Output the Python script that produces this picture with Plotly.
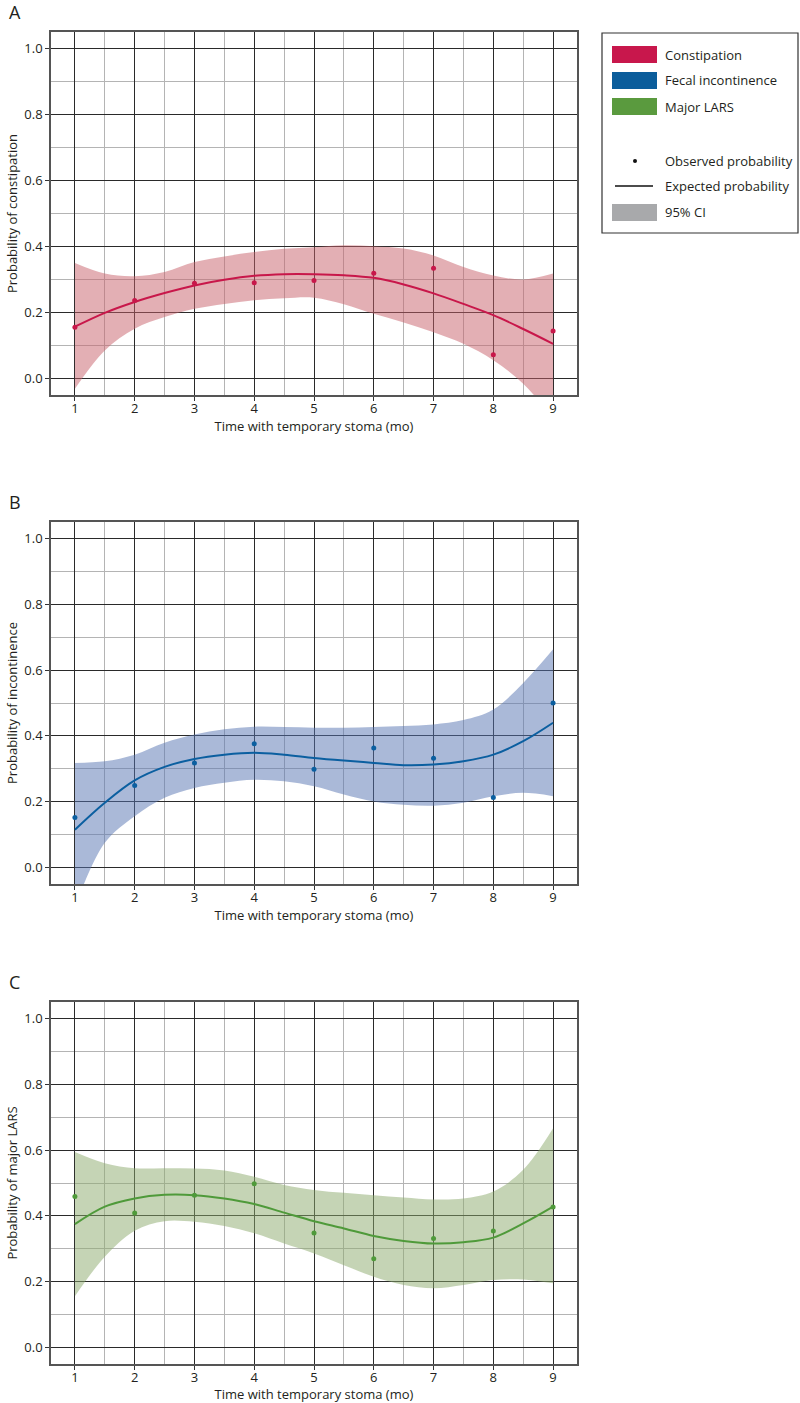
import plotly.graph_objects as go

# ---------------- data ----------------
months = [1, 2, 3, 4, 5, 6, 7, 8, 9]
curve_x = [1, 1.5, 2, 2.5, 3, 3.5, 4, 4.5, 5, 5.5, 6, 6.5, 7, 7.5, 8, 8.5, 9]

# A: constipation
const_obs = [0.155, 0.236, 0.289, 0.290, 0.297, 0.319, 0.334, 0.072, 0.144]
const_fit = [0.157, 0.199, 0.232, 0.259, 0.282, 0.299, 0.311, 0.316, 0.316, 0.313, 0.305, 0.285, 0.258, 0.226, 0.192, 0.150, 0.105]
const_hi = [0.350, 0.318, 0.310, 0.323, 0.353, 0.370, 0.383, 0.393, 0.398, 0.404, 0.401, 0.394, 0.373, 0.338, 0.312, 0.300, 0.318]
const_lo = [-0.031, 0.085, 0.151, 0.186, 0.211, 0.226, 0.237, 0.243, 0.245, 0.225, 0.196, 0.170, 0.140, 0.105, 0.055, -0.016, -0.120]

# B: fecal incontinence
inc_obs = [0.152, 0.249, 0.318, 0.376, 0.299, 0.363, 0.332, 0.213, 0.500]
inc_fit = [0.115, 0.197, 0.265, 0.306, 0.330, 0.343, 0.349, 0.343, 0.333, 0.325, 0.318, 0.311, 0.313, 0.323, 0.343, 0.384, 0.440]
inc_hi = [0.318, 0.323, 0.343, 0.379, 0.404, 0.420, 0.428, 0.427, 0.425, 0.425, 0.427, 0.430, 0.435, 0.448, 0.480, 0.561, 0.663]
inc_lo = [-0.120, 0.075, 0.156, 0.212, 0.242, 0.258, 0.267, 0.262, 0.247, 0.222, 0.201, 0.191, 0.188, 0.197, 0.217, 0.227, 0.217]

# C: major LARS
lars_x = [1, 2, 3, 4, 5, 6, 7, 8, 9]
lars_obs = [0.459, 0.409, 0.463, 0.498, 0.348, 0.270, 0.331, 0.354, 0.427]
lars_fit = [0.375, 0.428, 0.453, 0.464, 0.463, 0.453, 0.436, 0.410, 0.384, 0.362, 0.339, 0.324, 0.316, 0.320, 0.334, 0.377, 0.428]
lars_hi = [0.594, 0.560, 0.545, 0.545, 0.544, 0.538, 0.519, 0.494, 0.479, 0.470, 0.463, 0.456, 0.450, 0.453, 0.474, 0.540, 0.666]
lars_lo = [0.156, 0.276, 0.355, 0.384, 0.382, 0.369, 0.347, 0.316, 0.286, 0.250, 0.215, 0.190, 0.180, 0.190, 0.205, 0.207, 0.195]

y_ticks = [0.0, 0.2, 0.4, 0.6, 0.8, 1.0]
y_titles = ["Probability of constipation", "Probability of incontinence", "Probability of major LARS"]
x_title = "Time with temporary stoma (mo)"
panel_labels = ["A", "B", "C"]
legend_series = ["Constipation", "Fecal incontinence", "Major LARS"]
legend_misc = ["Observed probability", "Expected probability", "95% CI"]

# ---------------- styling ----------------
W, H = 800, 1403
FONT = "Open Sans"
TXT = "#231F20"
line_cols = ["#C8174A", "#0B5FA0", "#4F9A3A"]
fill_cols = ["rgba(200,95,105,0.5)", "rgba(85,115,178,0.5)", "rgba(139,169,107,0.5)"]
swatch_cols = ["#C8174C", "#0B5D9B", "#5A9A3E", "#A8A9AB"]

# pixel boxes (left, top, right, bottom)
px_left, px_right = 51, 577
panels_px = [(32, 395), (522, 884), (1002, 1364)]

def px_x(x):
    return x / W

def px_y(y):
    return 1 - y / H

fig = go.Figure()

series = [
    (months, const_obs, const_fit, const_hi, const_lo),
    (months, inc_obs, inc_fit, inc_hi, inc_lo),
    (lars_x, lars_obs, lars_fit, lars_hi, lars_lo),
]

layout = dict(
    width=W, height=H,
    margin=dict(l=0, r=0, t=0, b=0),
    paper_bgcolor="white", plot_bgcolor="white",
    showlegend=False,
    font=dict(family=FONT, size=13, color=TXT),
)

annotations = []
shapes = []

for i, (ox, obs, fit, hi, lo) in enumerate(series):
    n = "" if i == 0 else str(i + 1)
    xa, ya = "x" + n, "y" + n
    fig.add_trace(go.Scatter(x=curve_x, y=lo, mode="lines", line=dict(width=0, shape="spline", smoothing=1),
                             xaxis=xa, yaxis=ya, hoverinfo="skip"))
    fig.add_trace(go.Scatter(x=curve_x, y=hi, mode="lines", line=dict(width=0, shape="spline", smoothing=1),
                             fill="tonexty", fillcolor=fill_cols[i], xaxis=xa, yaxis=ya, hoverinfo="skip"))
    fig.add_trace(go.Scatter(x=curve_x, y=fit, mode="lines",
                             line=dict(color=line_cols[i], width=2, shape="spline", smoothing=1),
                             xaxis=xa, yaxis=ya))
    fig.add_trace(go.Scatter(x=ox, y=obs, mode="markers",
                             marker=dict(color=line_cols[i], size=5),
                             xaxis=xa, yaxis=ya, cliponaxis=False))

    top, bot = panels_px[i]
    layout["xaxis" + n] = dict(
        domain=[px_x(px_left), px_x(px_right)], anchor=ya,
        range=[0.6, 9.4], tickvals=months, ticktext=[str(m) for m in months],
        showgrid=True, gridcolor="#2a2a2a", gridwidth=1.2,
        minor=dict(tickvals=[1.5, 2.5, 3.5, 4.5, 5.5, 6.5, 7.5, 8.5], showgrid=True,
                   gridcolor="#b4b4b4", gridwidth=1.2, ticks=""),
        ticks="outside", ticklen=4, tickcolor="#333", tickwidth=1,
        ticklabelstandoff=-3,
        showline=True, linecolor="#555", linewidth=1.5, mirror=True,
        zeroline=False, tickfont=dict(size=13, color=TXT),
        title=dict(text=x_title, font=dict(size=13, color=TXT), standoff=2),
    )
    layout["yaxis" + n] = dict(
        domain=[px_y(bot), px_y(top)], anchor=xa,
        range=[-0.05, 1.05], tickvals=y_ticks, ticktext=[f"{v:.1f}" for v in y_ticks],
        showgrid=True, gridcolor="#2a2a2a", gridwidth=1.2,
        minor=dict(tickvals=[0.1, 0.3, 0.5, 0.7, 0.9], showgrid=True,
                   gridcolor="#b4b4b4", gridwidth=1.2, ticks=""),
        ticks="outside", ticklen=4, tickcolor="#333", tickwidth=1,
        showline=True, linecolor="#555", linewidth=1.5, mirror=True,
        zeroline=False, tickfont=dict(size=13, color=TXT),
        title=dict(text=y_titles[i], font=dict(size=13, color=TXT), standoff=4),
    )
    annotations.append(dict(text=panel_labels[i], x=px_x(7), y=px_y(top - 20), xref="paper", yref="paper",
                            xanchor="left", yanchor="middle", showarrow=False,
                            font=dict(size=18, color=TXT)))

# ---------------- legend (drawn) ----------------
shapes.append(dict(type="rect", xref="paper", yref="paper",
                   x0=px_x(602), x1=px_x(798), y0=px_y(233), y1=px_y(33),
                   line=dict(color="#333", width=1.2), fillcolor="white"))
row_y = [54.5, 80.5, 106.5]
for k, lab in enumerate(legend_series):
    shapes.append(dict(type="rect", xref="paper", yref="paper",
                       x0=px_x(612), x1=px_x(657), y0=px_y(row_y[k] + 8.5), y1=px_y(row_y[k] - 8.5),
                       line=dict(width=0), fillcolor=swatch_cols[k]))
    annotations.append(dict(text=lab, x=px_x(663), y=px_y(row_y[k]), xref="paper", yref="paper",
                            xanchor="left", yanchor="middle", showarrow=False,
                            font=dict(size=13, color=TXT)))
misc_y = [161, 186, 212]
shapes.append(dict(type="circle", xref="paper", yref="paper",
                   x0=px_x(633), x1=px_x(637), y0=px_y(163), y1=px_y(159),
                   line=dict(width=0), fillcolor="#111"))
shapes.append(dict(type="line", xref="paper", yref="paper",
                   x0=px_x(615), x1=px_x(653), y0=px_y(186), y1=px_y(186),
                   line=dict(color="#111", width=1.5)))
shapes.append(dict(type="rect", xref="paper", yref="paper",
                   x0=px_x(612), x1=px_x(657), y0=px_y(221), y1=px_y(204),
                   line=dict(width=0), fillcolor=swatch_cols[3]))
for k, lab in enumerate(legend_misc):
    annotations.append(dict(text=lab, x=px_x(663), y=px_y(misc_y[k]), xref="paper", yref="paper",
                            xanchor="left", yanchor="middle", showarrow=False,
                            font=dict(size=13, color=TXT)))

layout["annotations"] = annotations
layout["shapes"] = shapes
fig.update_layout(**layout)
fig.write_html("out.html",
               config={"displayModeBar": False},
               post_script="document.body.style.margin='0';document.body.style.overflow='hidden';")
